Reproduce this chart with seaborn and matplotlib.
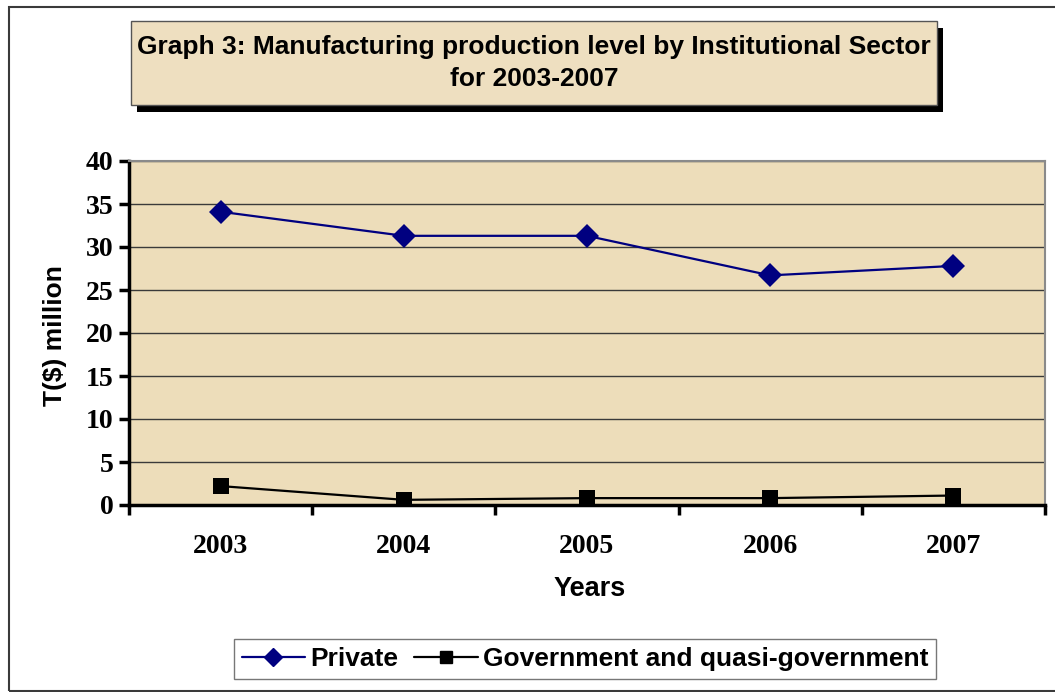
import pandas as pd
import seaborn as sns
import matplotlib.pyplot as plt
from matplotlib.lines import Line2D
from matplotlib.patches import Rectangle

years = ["2003", "2004", "2005", "2006", "2007"]
private = [34.1, 31.3, 31.3, 26.7, 27.8]
government = [2.2, 0.6, 0.8, 0.8, 1.1]
series_names = ["Private", "Government and quasi-government"]
y_ticks = [0, 5, 10, 15, 20, 25, 30, 35, 40]

title = "Graph 3: Manufacturing production level by Institutional Sector\nfor 2003-2007"

df = pd.DataFrame({
    "Year": years * 2,
    "Value": private + government,
    "Sector": [series_names[0]] * len(years) + [series_names[1]] * len(years),
})

sns.set_style("white")
plt.rcParams["font.family"] = ["Liberation Sans", "DejaVu Sans"]
plt.rcParams["text.color"] = "black"
plt.rcParams["axes.labelcolor"] = "black"
plt.rcParams["xtick.color"] = "black"
plt.rcParams["ytick.color"] = "black"

W, H = 1055, 692
fig = plt.figure(figsize=(W / 100, H / 100), dpi=100)

# outer chart frame
fig.patches.append(Rectangle((9 / W, 1 - 691 / H), 1.1, (691 - 7) / H,
                             transform=fig.transFigure, fill=False,
                             edgecolor="#3a3a3a", linewidth=1.5))

# plot area
ax = fig.add_axes([129 / W, 1 - 505 / H, 916 / W, 344 / H])
ax.set_facecolor("#EDDDBA")

palette = {series_names[0]: "#000080", series_names[1]: "#000000"}
markers = {series_names[0]: "D", series_names[1]: "s"}
sns.lineplot(data=df, x="Year", y="Value", hue="Sector", style="Sector",
             palette=palette, markers=markers, dashes=False, linewidth=1.6,
             markersize=12, markeredgewidth=0, legend=False, ax=ax, zorder=3)

ax.set_xlim(-0.5, len(years) - 0.5)
ax.set_ylim(0, 40)
ax.set_yticks(y_ticks)
ax.set_yticklabels([str(t) for t in y_ticks], family="Liberation Serif",
                   fontweight="bold", fontsize=20)
ax.set_xticks([i - 0.5 for i in range(len(years) + 1)])
ax.set_xticklabels([])
ax.set_xticks(range(len(years)), minor=True)
ax.set_xticklabels(years, minor=True, family="Liberation Serif",
                   fontweight="bold", fontsize=20)
ax.tick_params(axis="x", which="major", bottom=True, length=7, width=2.5,
               direction="out")
ax.tick_params(axis="x", which="minor", bottom=True, length=0, pad=21)
ax.tick_params(axis="y", left=True, length=7, width=2.5, direction="out", pad=4)

ax.yaxis.grid(True, color="#3a3a3a", linewidth=1)
ax.xaxis.grid(False)
ax.set_axisbelow(True)
for side in ["left", "bottom"]:
    ax.spines[side].set_color("black")
    ax.spines[side].set_linewidth(2.5)
for side in ["top", "right"]:
    ax.spines[side].set_color("#8a8a8a")
    ax.spines[side].set_linewidth(1.5)

ax.set_xlabel("Years", fontsize=19.5, fontweight="bold")
ax.xaxis.set_label_coords(0.503, -0.205)
ax.set_ylabel("T($) million", fontsize=19, fontweight="bold")
ax.yaxis.set_label_coords(-0.068, 0.494)

# title box with shadow
bx0, by0, bx1, by1 = 131, 21, 937, 105
fig.patches.append(Rectangle(((bx0 + 6) / W, 1 - (by1 + 7) / H), (bx1 - bx0) / W,
                             (by1 - by0) / H, transform=fig.transFigure,
                             facecolor="black", edgecolor="none"))
fig.patches.append(Rectangle((bx0 / W, 1 - by1 / H), (bx1 - bx0) / W,
                             (by1 - by0) / H, transform=fig.transFigure,
                             facecolor="#EEDFC0", edgecolor="#555555", linewidth=1))
fig.text(534 / W, 1 - 63 / H, title, ha="center", va="center",
         fontsize=19, fontweight="bold", linespacing=1.45)

# legend
handles = [
    Line2D([], [], color="#000080", marker="D", markersize=9, linewidth=1.6),
    Line2D([], [], color="black", marker="s", markersize=9, linewidth=1.6),
]
fig.legend(handles, series_names, loc="center", bbox_to_anchor=(585 / W, 1 - 659 / H),
           ncol=2, frameon=True, fancybox=False, edgecolor="#555555",
           prop={"weight": "bold", "size": 19}, handlelength=2.4,
           handletextpad=0.2, columnspacing=0.6, borderpad=0.3)

plt.savefig("out.png", dpi=100)
plt.close()
